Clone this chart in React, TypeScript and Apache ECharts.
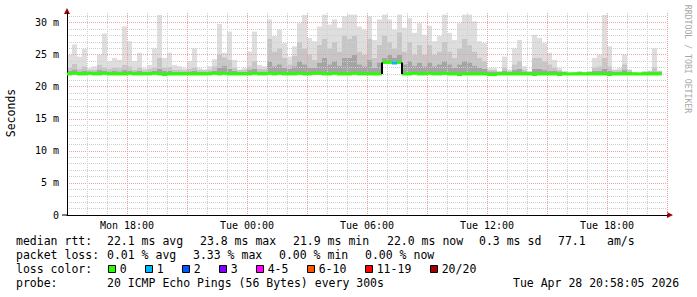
import React, { useEffect, useRef } from 'react';
import * as echarts from 'echarts';

// time axis in hours counted from Mon 00:00
const startHour = 15;
const endHour = 45;
const stepHours = 0.25;

const xTickLabels: [number, string][] = [
  [18, 'Mon 18:00'],
  [24, 'Tue 00:00'],
  [30, 'Tue 06:00'],
  [36, 'Tue 12:00'],
  [42, 'Tue 18:00'],
];
const yTickLabels: [number, string][] = [
  [0, '0'], [5, '5 m'], [10, '10 m'], [15, '15 m'], [20, '20 m'], [25, '25 m'], [30, '30 m'],
];

// per-column RTT (ms): lowest ping, dark smoke top, mid smoke top, highest ping, median
const minRtt = [
  21.9, 21.9, 21.9, 21.9, 21.9, 21.9, 21.9, 21.9, 21.9, 21.9,
  21.9, 21.9, 21.9, 21.9, 21.9, 21.9, 21.9, 21.9, 21.9, 21.9,
  21.9, 21.9, 21.9, 21.9, 21.9, 21.9, 21.9, 21.9, 21.9, 21.9,
  21.9, 21.9, 21.9, 21.9, 21.9, 21.9, 21.9, 21.9, 21.9, 21.9,
  21.9, 21.9, 21.9, 21.9, 21.9, 21.9, 21.9, 21.9, 21.9, 21.9,
  21.9, 21.9, 21.9, 21.9, 21.9, 21.9, 21.9, 21.9, 21.9, 21.9,
  21.9, 21.9, 21.9, 23.6, 23.6, 23.6, 23.6, 21.9, 21.9, 21.9,
  21.9, 21.9, 21.9, 21.9, 21.9, 21.9, 21.9, 21.9, 21.9, 21.9,
  21.9, 21.9, 21.9, 21.9, 21.9, 21.9, 21.9, 21.9, 21.9, 21.9,
  21.9, 21.9, 21.9, 21.9, 21.9, 21.9, 21.9, 21.9, 21.9, 21.9,
  21.9, 21.9, 21.9, 21.9, 21.9, 21.9, 21.9, 21.9, 21.9, 21.9,
  21.9, 21.9, 21.9, 21.9, 21.9, 21.9, 21.9, 21.9, 21.9,
];
const darkSmoke = [
  22.5, 22.7, 22.4, 22.5, 22.4, 22.4, 22.6, 22.5, 22.4, 22.5,
  22.4, 22.6, 22.5, 22.4, 22.5, 22.3, 22.4, 22.5, 22.8, 22.5,
  22.5, 22.3, 22.3, 22.3, 22.4, 22.5, 22.3, 22.3, 22.4, 22.5,
  23.0, 23.3, 22.8, 22.5, 22.3, 22.3, 22.6, 22.8, 22.4, 22.4,
  24.0, 23.2, 23.5, 23.0, 22.8, 23.2, 24.0, 23.5, 23.0, 23.0,
  23.8, 24.5, 23.5, 24.0, 23.3, 24.5, 24.5, 25.0, 23.5, 23.2,
  24.2, 23.0, 23.8, 24.5, 25.0, 24.5, 25.0, 23.5, 24.0, 23.3,
  23.8, 23.2, 23.8, 23.2, 23.5, 24.0, 23.5, 23.0, 23.5, 24.0,
  23.8, 23.3, 23.0, 22.8, 22.4, 22.4, 22.3, 22.5, 22.3, 22.6,
  22.8, 22.4, 22.3, 22.8, 22.8, 22.6, 22.5, 22.5, 22.4, 22.3,
  22.1, 22.2, 22.3, 22.2, 22.3, 22.5, 22.5, 22.8, 22.5, 22.3,
  22.3, 22.6, 22.3, 22.2, 22.1, 22.3, 22.3, 22.4, 22.3,
];
const midSmoke = [
  23.0, 23.6, 22.8, 23.2, 22.7, 22.7, 23.4, 23.0, 22.8, 23.0,
  22.9, 23.4, 23.2, 22.7, 23.0, 22.6, 22.8, 23.0, 24.5, 23.0,
  23.1, 22.7, 22.7, 22.6, 22.8, 23.0, 22.6, 22.6, 22.7, 23.2,
  25.0, 24.6, 24.2, 23.0, 22.6, 22.7, 23.2, 24.0, 22.8, 22.8,
  27.5, 25.5, 26.0, 24.5, 23.5, 24.8, 27.0, 26.0, 25.0, 24.2,
  26.5, 27.5, 26.0, 27.0, 25.5, 28.0, 27.5, 28.0, 25.5, 25.0,
  27.5, 24.5, 26.5, 28.0, 27.0, 26.0, 28.5, 25.5, 27.0, 25.0,
  26.5, 25.0, 26.5, 25.0, 25.5, 27.0, 25.5, 24.5, 26.0, 27.5,
  26.5, 25.5, 24.5, 24.0, 22.6, 22.6, 22.4, 23.0, 22.5, 23.5,
  24.0, 22.7, 22.4, 24.5, 24.5, 24.0, 23.5, 23.0, 22.6, 22.4,
  22.2, 22.3, 22.4, 22.3, 22.4, 23.0, 23.2, 24.5, 23.2, 22.6,
  22.6, 23.5, 22.6, 22.3, 22.2, 22.4, 22.5, 23.0, 22.5,
];
const maxRtt = [
  25.0, 26.6, 24.7, 25.9, 22.9, 23.2, 25.0, 28.3, 24.0, 24.5,
  24.2, 29.4, 27.1, 24.0, 25.3, 22.9, 23.4, 26.0, 31.2, 24.5,
  25.3, 23.4, 23.2, 22.9, 24.0, 26.0, 22.9, 22.7, 23.2, 24.3,
  29.8, 25.3, 28.6, 24.2, 22.7, 22.9, 25.5, 28.6, 23.4, 23.2,
  30.5, 27.9, 28.9, 26.8, 24.7, 26.3, 29.9, 31.2, 27.6, 27.1,
  29.4, 31.25, 29.7, 30.5, 29.2, 31.0, 31.25, 31.25, 29.4, 28.9,
  31.0, 27.3, 30.5, 31.25, 30.5, 28.9, 31.25, 29.2, 30.7, 28.4,
  29.9, 28.1, 29.5, 27.1, 27.9, 31.25, 28.4, 27.3, 29.9, 31.25,
  31.25, 30.2, 27.1, 26.8, 22.9, 22.9, 22.4, 24.7, 22.7, 26.0,
  27.3, 23.2, 22.4, 28.1, 27.6, 26.8, 25.3, 24.2, 22.9, 22.4,
  22.2, 22.3, 22.4, 22.3, 22.4, 24.5, 25.0, 31.2, 26.3, 22.7,
  22.9, 25.0, 22.7, 22.3, 22.2, 22.4, 22.5, 26.0, 22.5,
];
const medianRtt = [
  22.0, 22.1, 22.0, 22.0, 22.1, 22.0, 22.0, 22.1, 22.0, 22.0,
  22.0, 22.0, 22.1, 22.0, 22.0, 22.0, 22.0, 22.1, 22.0, 21.9,
  22.0, 22.0, 22.0, 22.0, 22.0, 22.0, 22.0, 22.0, 22.0, 22.1,
  22.0, 22.1, 22.0, 22.0, 22.0, 22.0, 22.0, 22.1, 22.0, 22.0,
  22.1, 22.0, 22.1, 22.0, 22.0, 22.0, 22.1, 22.0, 22.0, 22.1,
  22.1, 22.0, 22.0, 22.1, 22.0, 22.0, 22.0, 22.1, 22.0, 22.0,
  22.0, 22.0, 22.0, 23.8, 23.8, 23.7, 23.8, 22.0, 22.0, 22.1,
  22.0, 22.0, 22.1, 22.0, 22.0, 22.1, 22.0, 22.0, 21.9, 22.0,
  22.0, 22.0, 22.0, 22.0, 21.9, 21.9, 22.0, 22.0, 22.0, 22.0,
  22.0, 22.0, 22.0, 21.9, 22.0, 22.0, 22.0, 22.0, 21.9, 22.0,
  22.0, 22.0, 22.0, 22.0, 22.0, 22.0, 22.0, 22.0, 21.9, 22.0,
  22.0, 22.0, 22.0, 22.0, 22.0, 22.0, 22.0, 22.0, 22.0,
];
// [column index, loss colour index]
const lossEvents: [number, number][] = [[65, 1]];

const lossLabels = ['0', '1', '2', '3', '4-5', '6-10', '11-19', '20/20'];
const lossColors = ['#26ff00', '#00b8ff', '#0059ff', '#7e00ff', '#ff00ff', '#ff5500', '#ff0000', '#a10000'];

const statsRtt = ['median rtt:', '22.1 ms avg', '23.8 ms max', '21.9 ms min', '22.0 ms now', '0.3 ms sd', '77.1', 'am/s'];
const statsLoss = ['packet loss:', '0.01 % avg', '3.33 % max', '0.00 % min', '0.00 % now'];
const lossTitle = 'loss color:';
const probeTitle = 'probe:';
const probeText = '20 ICMP Echo Pings (56 Bytes) every 300s';
const stampText = 'Tue Apr 28 20:58:05 2026';
const yTitle = 'Seconds';
const watermark = 'RRDTOOL / TOBI OETIKER';

const MONO = '"DejaVu Sans Mono", "Liberation Mono", monospace';
const LEGEND_FONT = `11.5px ${MONO}`;
const MAJOR = '#f0a0a0';
const MINOR = '#cfcfcf';

function buildOption() {
  const lossMap = new Map<number, number>(lossEvents);
  const smokeData = maxRtt.map((v, i) => [startHour + (i + 0.5) * stepHours, minRtt[i], darkSmoke[i], midSmoke[i], v]);
  const medianData = medianRtt.map((v, i) => [startHour + (i + 0.5) * stepHours, v]);

  const graphics: any[] = [];
  const txt = (text: string, x: number, y: number, extra: any = {}) => ({
    type: 'text', x, y, silent: true,
    style: { text, font: LEGEND_FONT, fill: '#000', verticalAlign: 'middle', ...extra },
  });
  const rttX = [16, 107, 200, 293, 387, 479, 558, 607];
  statsRtt.forEach((t, k) => graphics.push(txt(t, rttX[k], 241)));
  const lossX = [16, 107, 193, 279, 365];
  statsLoss.forEach((t, k) => graphics.push(txt(t, lossX[k], 255)));
  graphics.push(txt(lossTitle, 16, 269));
  let sx = 108;
  lossLabels.forEach((lab, k) => {
    graphics.push({ type: 'rect', silent: true, shape: { x: sx + 0.5, y: 265.5, width: 7, height: 7 }, style: { fill: lossColors[k], stroke: '#000', lineWidth: 1 } });
    graphics.push(txt(lab, sx + 11.7, 269));
    sx += 37 + (lab.length - 1) * 7;
  });
  graphics.push(txt(probeTitle, 16, 283));
  graphics.push(txt(probeText, 107, 283));
  graphics.push(txt(stampText, 513, 283));
  graphics.push(txt(yTitle, 11, 113, { align: 'center' }));
  graphics[graphics.length - 1].rotation = Math.PI / 2;
  graphics.push({
    type: 'text', x: 688, y: 59, rotation: -Math.PI / 2, silent: true,
    style: { text: watermark, font: `8.2px ${MONO}`, fill: '#a8a8a8', align: 'center', verticalAlign: 'middle' },
  });
  graphics.push({ type: 'polygon', silent: true, shape: { points: [[64, 14], [70, 14], [67, 8]] }, style: { fill: '#a00000' } });
  graphics.push({ type: 'polygon', silent: true, shape: { points: [[667, 212], [667, 218], [673, 215]] }, style: { fill: '#a00000' } });
  graphics.push({ type: 'line', silent: true, shape: { x1: 62, y1: 215, x2: 67, y2: 215 }, style: { stroke: '#000', lineWidth: 1 } });

  return {
    animation: false,
    backgroundColor: '#fff',
    grid: { left: 67, right: 30, top: 13, height: 202, containLabel: false },
    xAxis: {
      type: 'value', min: startHour, max: endHour, interval: 1, z: 3,
      axisLine: { show: true, onZero: false, lineStyle: { color: '#000', width: 1 } },
      axisTick: { show: false },
      axisLabel: {
        margin: 5, color: '#000', fontSize: 10, fontFamily: MONO,
        formatter: (v: number) => { const f = xTickLabels.find((t) => Math.abs(t[0] - v) < 1e-6); return f ? f[1] : ''; },
      },
      splitLine: { show: true, lineStyle: { color: [MAJOR, MINOR, MINOR], type: [1, 1], width: 1 } },
    },
    yAxis: {
      type: 'value', min: 0, max: 31.5, interval: 1, z: 3,
      axisLine: { show: true, lineStyle: { color: '#000', width: 1 } },
      axisTick: { show: false },
      axisLabel: {
        margin: 8, color: '#000', fontSize: 10, fontFamily: MONO,
        formatter: (v: number) => { const f = yTickLabels.find((t) => Math.abs(t[0] - v) < 1e-6); return f ? f[1] : ''; },
      },
      splitLine: { show: true, showMaxLine: false, lineStyle: { color: [MAJOR, MINOR, MINOR, MINOR, MINOR], type: [1, 1], width: 1 } },
    },
    graphic: graphics,
    series: [
      {
        type: 'custom', name: 'smoke', clip: true, z: 1,
        encode: { x: 0, y: [1, 2, 3, 4] },
        data: smokeData,
        renderItem: (params: any, api: any) => {
          const i = params.dataIndex;
          const xl = startHour + i * stepHours;
          const xr = xl + stepHours;
          const px0 = api.coord([xl, 0])[0];
          const px1 = api.coord([xr, 0])[0];
          const w = px1 - px0;
          const yLow = api.coord([xl, minRtt[i]])[1];
          const yDark = api.coord([xl, darkSmoke[i]])[1];
          const yMid = api.coord([xl, midSmoke[i]])[1];
          const yHigh = api.coord([xl, maxRtt[i]])[1];
          return {
            type: 'group',
            children: [
              { type: 'rect', shape: { x: px0, y: yHigh, width: w, height: Math.max(0, yMid - yHigh) }, style: { fill: '#dedede' } },
              { type: 'rect', shape: { x: px0, y: yMid, width: w, height: Math.max(0, yDark - yMid) }, style: { fill: '#c6c6c6' } },
              { type: 'rect', shape: { x: px0, y: yDark, width: w, height: Math.max(0, yLow - yDark) }, style: { fill: '#a4a4a4' } },
            ],
          };
        },
      },
      {
        type: 'custom', name: 'median rtt', clip: true, z: 5,
        encode: { x: 0, y: 1 },
        data: medianData,
        renderItem: (params: any, api: any) => {
          const i = params.dataIndex;
          const xl = startHour + i * stepHours;
          const p0 = api.coord([xl, medianRtt[i]]);
          const p1 = api.coord([xl + stepHours, medianRtt[i]]);
          const color = lossColors[lossMap.get(i) ?? 0];
          const children: any[] = [
            { type: 'rect', shape: { x: p0[0], y: p0[1] - 1.5, width: p1[0] - p0[0], height: 3 }, style: { fill: color } },
          ];
          if (i > 0 && Math.abs(medianRtt[i] - medianRtt[i - 1]) > 0.5) {
            const pp = api.coord([xl, medianRtt[i - 1]]);
            children.push({ type: 'line', shape: { x1: p0[0], y1: pp[1], x2: p0[0], y2: p0[1] }, style: { stroke: '#000', lineWidth: 2 } });
          }
          return { type: 'group', children };
        },
      },
    ],
  };
}

export default function App() {
  const ref = useRef<HTMLDivElement>(null);
  useEffect(() => {
    if (!ref.current) return;
    const chart = echarts.init(ref.current, null, { renderer: 'svg' });
    chart.setOption(buildOption() as any);
    return () => chart.dispose();
  }, []);
  return (
    <div
      ref={ref}
      style={{ position: 'absolute', left: 0, top: 0, width: 697, height: 297, background: '#fff' }}
    />
  );
}
